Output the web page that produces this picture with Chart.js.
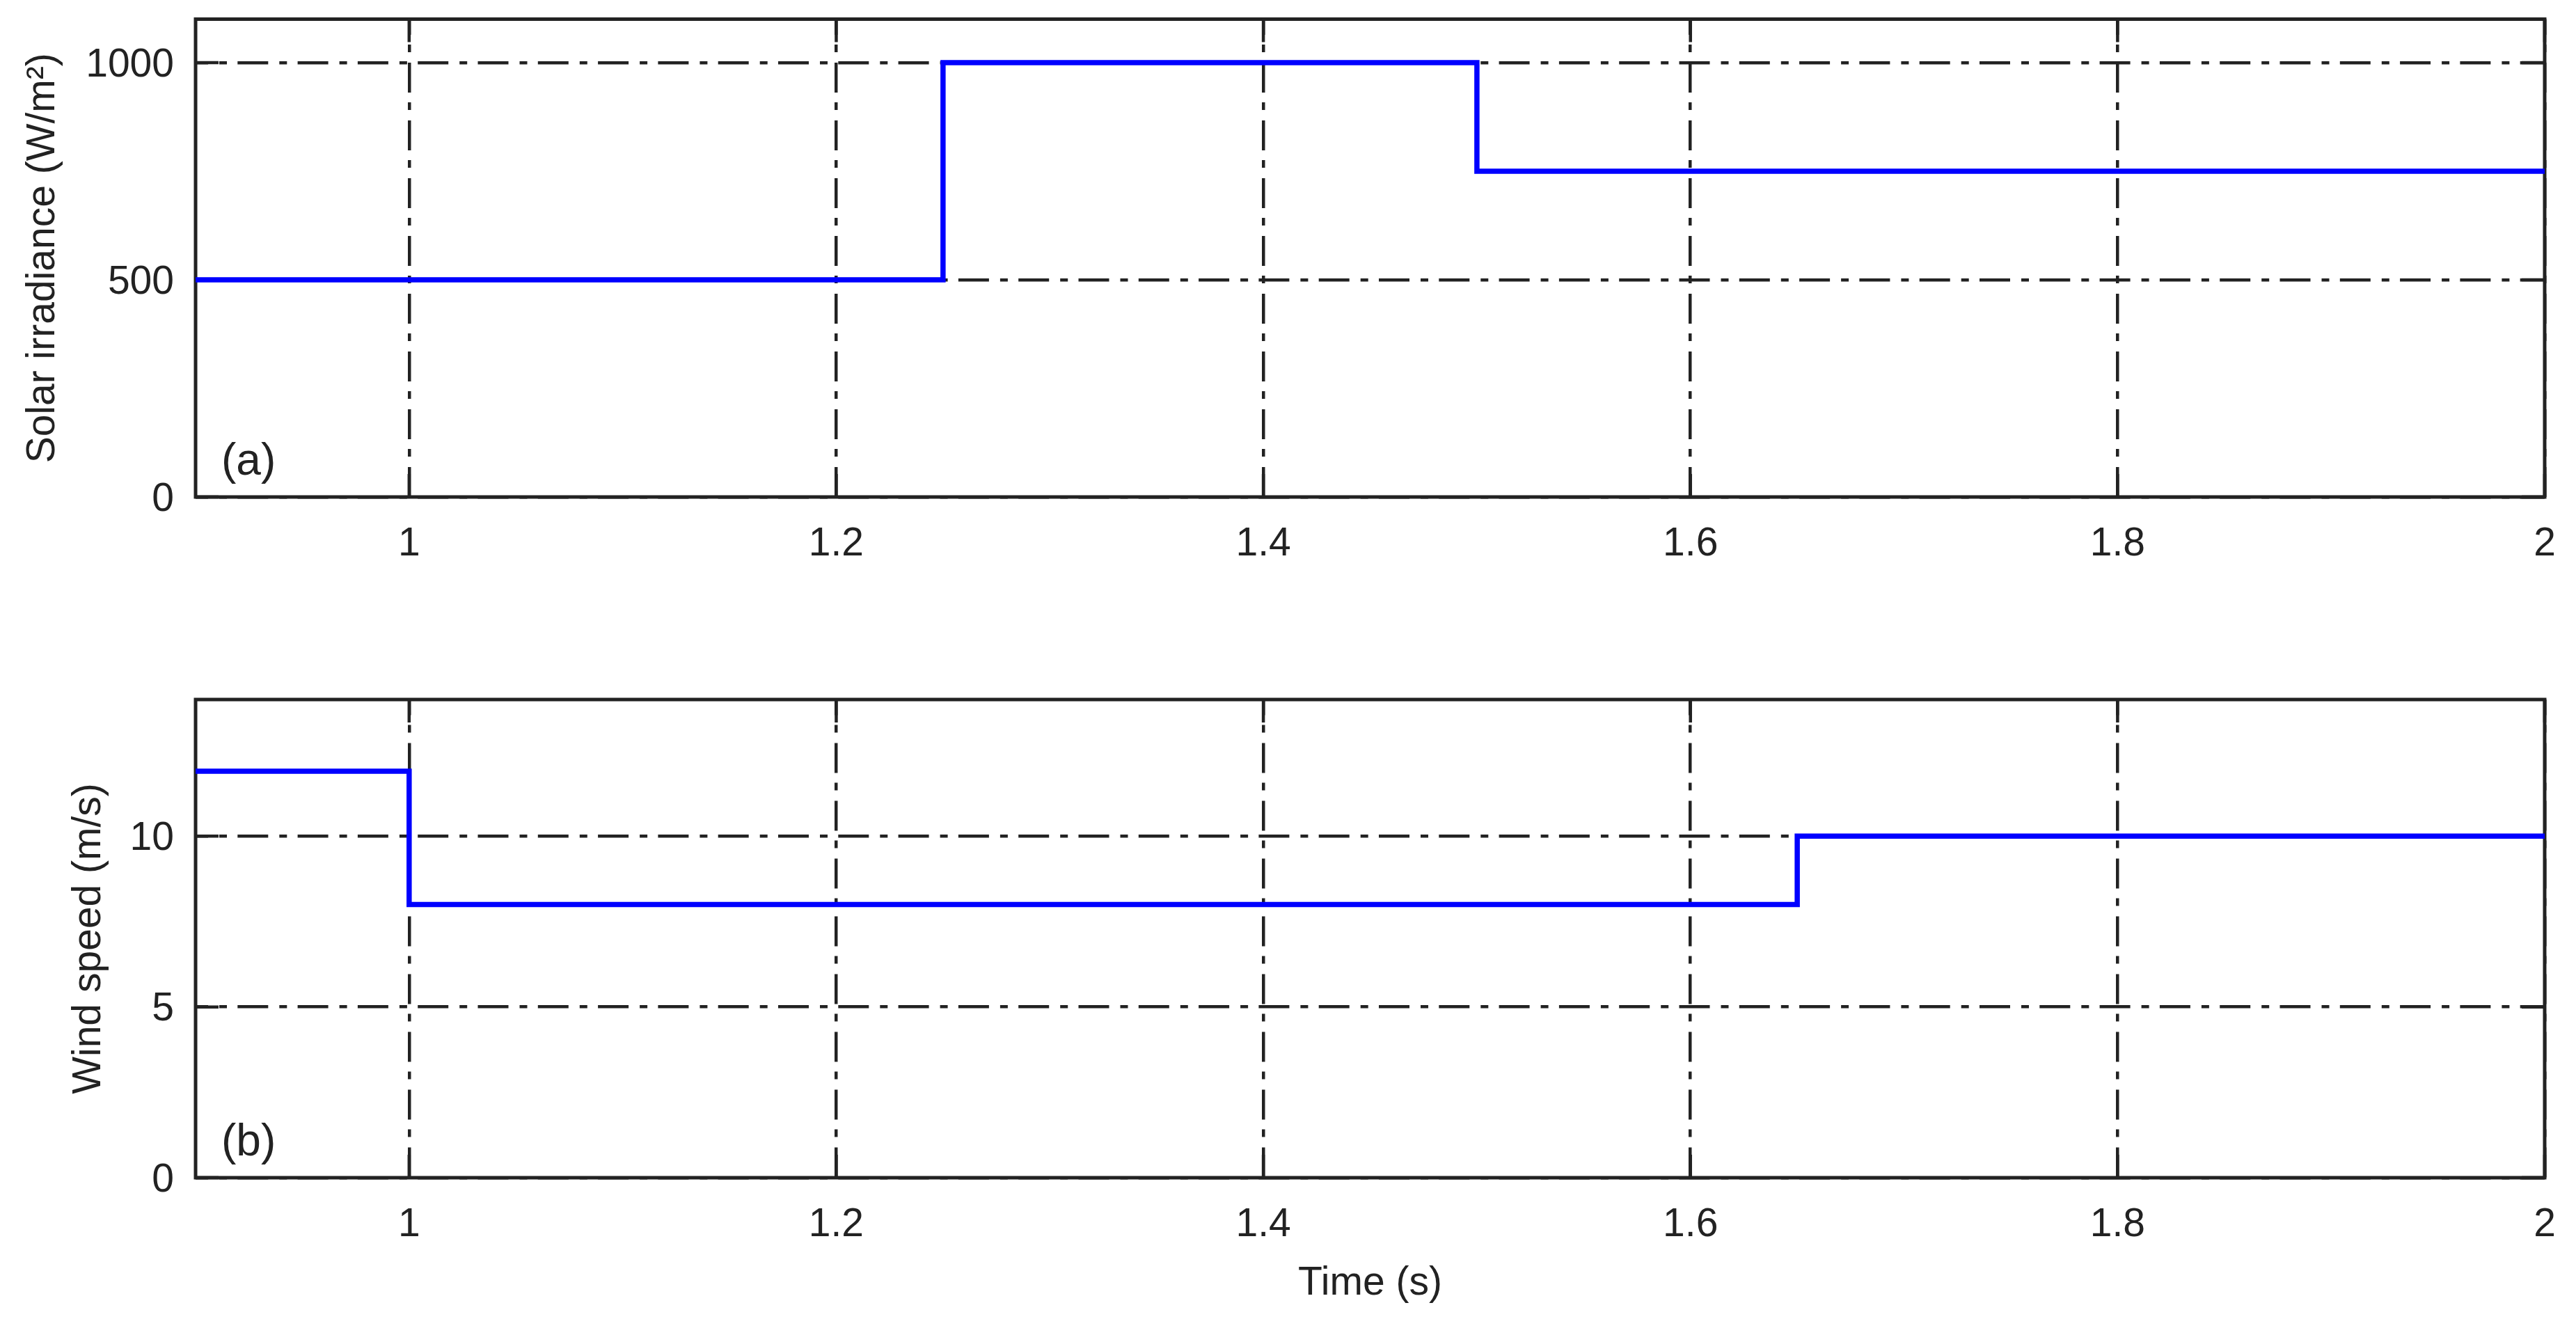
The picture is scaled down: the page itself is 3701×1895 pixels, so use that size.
<!DOCTYPE html>
<html>
<head>
<meta charset="utf-8">
<script src="https://cdn.jsdelivr.net/npm/chart.js@4.4.0/dist/chart.umd.min.js"></script>
<style>
    body { margin: 0; background: #fff; }
    canvas { position: absolute; left: 0; }
</style>
</head>
<body>
<canvas id="solar" width="3701" height="940" style="top:0"></canvas>
<canvas id="wind" width="3701" height="955" style="top:940px"></canvas>
<script>
// values
const timeTicks = [1, 1.2, 1.4, 1.6, 1.8, 2];
const solarTime = [0.9, 1.25, 1.5, 2];
const solarIrr = [500, 1000, 750, 750];
const solarTicks = [0, 500, 1000];
const windTime = [0.9, 1.0, 1.65, 2];
const windSpeed = [11.9, 8, 10, 10];
const windTicks = [0, 5, 10];

const ink = '#222';
const fontFamily = "'Liberation Sans', Arial, sans-serif";
const tickLen = 33;

let framePlugin = {
    id: 'frame',
    beforeDatasetsDraw: function (chart, args, opts) {
        let ctx = chart.ctx, a = chart.chartArea, sx = chart.scales.x, sy = chart.scales.y;
        ctx.save();
        ctx.strokeStyle = ink;
        ctx.setLineDash([]);
        ctx.lineWidth = 5;
        ctx.strokeRect(a.left, a.top, a.right - a.left, a.bottom - a.top);
        // inward tick marks on all four sides
        ctx.lineWidth = 4.5;
        ctx.beginPath();
        sx.ticks.forEach(t => {
            let x = sx.getPixelForValue(t.value);
            ctx.moveTo(x, a.bottom); ctx.lineTo(x, a.bottom - tickLen);
            ctx.moveTo(x, a.top); ctx.lineTo(x, a.top + tickLen);
        });
        sy.ticks.forEach(t => {
            let y = sy.getPixelForValue(t.value);
            ctx.moveTo(a.left, y); ctx.lineTo(a.left + tickLen, y);
            ctx.moveTo(a.right, y); ctx.lineTo(a.right - tickLen, y);
        });
        ctx.stroke();
        ctx.fillStyle = ink;
        ctx.font = '64px ' + fontFamily;
        ctx.textBaseline = 'alphabetic';
        ctx.fillText(opts.label, a.left + 37, a.bottom - 32);
        ctx.restore();
    }
};

function makeChart(id, cfg) {
    let points = cfg.xs.map((x, i) => ({ x: x, y: cfg.ys[i] }));
    return new Chart(document.getElementById(id), {
        type: 'line',
        data: {
            datasets: [{
                data: points,
                borderColor: '#0000ff',
                borderWidth: 7.5,
                pointRadius: 0,
                stepped: 'before',
                fill: false,
                borderJoinStyle: 'miter',
                borderCapStyle: 'butt'
            }]
        },
        plugins: [framePlugin],
        options: {
            responsive: false,
            animation: false,
            devicePixelRatio: 1,
            events: [],
            layout: { padding: { left: cfg.padLeft, top: cfg.padTop, right: 45, bottom: 0 } },
            plugins: {
                legend: { display: false },
                tooltip: { enabled: false },
                frame: { label: cfg.label }
            },
            scales: {
                x: {
                    type: 'linear',
                    min: 0.9,
                    max: 2,
                    afterBuildTicks: s => { s.ticks = timeTicks.map(v => ({ value: v })); },
                    afterFit: s => { s.height = cfg.xHeight; s.paddingLeft = 0; s.paddingRight = 0; },
                    ticks: {
                        padding: 34,
                        color: ink,
                        font: { family: fontFamily, size: 57 },
                        callback: v => String(v)
                    },
                    grid: { color: ink, lineWidth: 4.5, drawTicks: false },
                    // v4 takes the grid dash from border.dash
                    border: { display: false, dash: [43, 14, 11, 15], dashOffset: 20.5 },
                    title: {
                        display: !!cfg.xTitle,
                        text: cfg.xTitle || '',
                        color: ink,
                        font: { family: fontFamily, size: 57 },
                        padding: { top: 0, bottom: 17 }
                    }
                },
                y: {
                    type: 'linear',
                    min: 0,
                    max: cfg.yMax,
                    afterBuildTicks: s => { s.ticks = cfg.yTicks.map(v => ({ value: v })); },
                    afterFit: s => { s.width = 281 - cfg.padLeft; s.paddingTop = 0; s.paddingBottom = 0; },
                    ticks: {
                        padding: 31,
                        labelOffset: 4,
                        color: ink,
                        font: { family: fontFamily, size: 57 },
                        callback: v => String(v)
                    },
                    grid: { color: ink, lineWidth: 4.5, drawTicks: false },
                    border: { display: false, dash: [44, 16, 11, 15.3], dashOffset: 26 },
                    title: {
                        display: true,
                        text: cfg.yTitle,
                        color: ink,
                        font: { family: fontFamily, size: 57 },
                        padding: { top: 0, bottom: 0 }
                    }
                }
            }
        }
    });
}

makeChart('solar', {
    xs: solarTime, ys: solarIrr, yTicks: solarTicks, yMax: 1100,
    yTitle: 'Solar irradiance (W/m²)', label: '(a)',
    padLeft: 28, padTop: 27.5, xHeight: 226
});

makeChart('wind', {
    xs: windTime, ys: windSpeed, yTicks: windTicks, yMax: 14,
    yTitle: 'Wind speed (m/s)', xTitle: 'Time (s)', label: '(b)',
    padLeft: 94, padTop: 65, xHeight: 203
});
</script>
</body>
</html>
